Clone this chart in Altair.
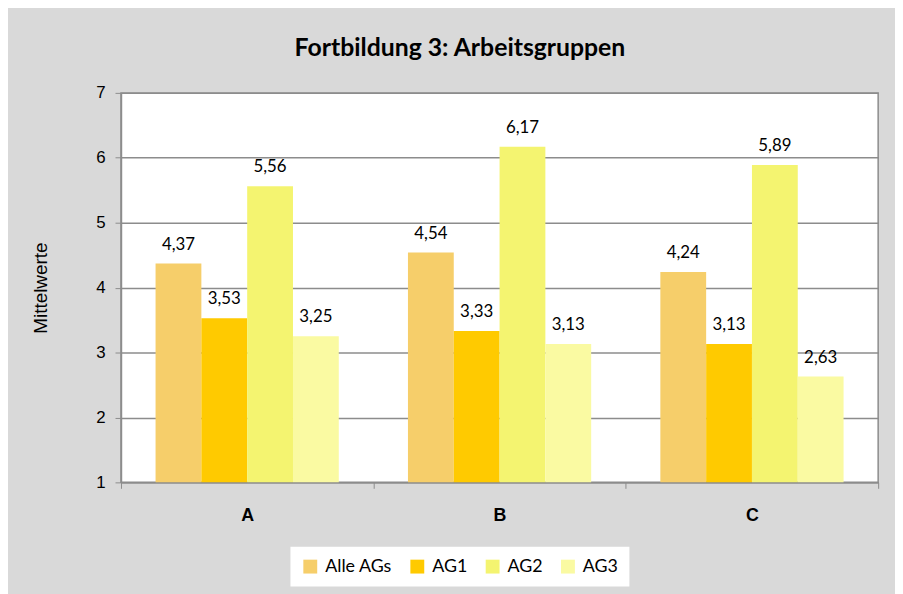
import altair as alt
import pandas as pd

categories = ["A", "B", "C"]
series = ["Alle AGs", "AG1", "AG2", "AG3"]
values = {
    "Alle AGs": [4.37, 4.54, 4.24],
    "AG1": [3.53, 3.33, 3.13],
    "AG2": [5.56, 6.17, 5.89],
    "AG3": [3.25, 3.13, 2.63],
}
colors = ["#F6CE6A", "#FFCA00", "#F4F470", "#FAFAA2"]

rows = []
for s in series:
    for c, v in zip(categories, values[s]):
        rows.append({"Kategorie": c, "Serie": s, "Wert": v,
                     "Label": f"{v:.2f}".replace(".", ",")})
df = pd.DataFrame(rows)

GRID = "#8c8c8c"

x = alt.X("Kategorie:N", sort=categories,
          scale=alt.Scale(paddingInner=0, paddingOuter=0),
          axis=alt.Axis(title=None, labelAngle=0, labelFont="Liberation Sans",
                        labelFontWeight="bold", labelFontSize=18, labelColor="black",
                        labelPadding=18, tickBand="extent", tickSize=6,
                        tickColor=GRID, domainColor=GRID, domainWidth=1.5))
y = alt.Y("Wert:Q", scale=alt.Scale(domain=[1, 7], nice=False),
          axis=alt.Axis(title="Mittelwerte", values=[1, 2, 3, 4, 5, 6, 7],
                        labelFont="Liberation Sans", labelFontSize=17,
                        labelColor="black", labelPadding=10, tickSize=6,
                        tickColor=GRID, domainColor=GRID, domainWidth=1.5,
                        gridColor=GRID, gridWidth=1.5, gridOpacity=1,
                        titleFont="Liberation Sans", titleFontSize=19,
                        titleFontWeight="normal", titleColor="black",
                        titlePadding=46))
xo = alt.XOffset("Serie:N", sort=series,
                 scale=alt.Scale(paddingInner=0, paddingOuter=0.755))

bars = alt.Chart(df).mark_bar().encode(
    x=x, xOffset=xo, y=y, y2=alt.datum(1),
    color=alt.Color("Serie:N", sort=series,
                    scale=alt.Scale(domain=series, range=colors),
                    legend=alt.Legend(title=None, orient="none", legendX=171,
                                      legendY=458, direction="horizontal",
                                      fillColor="white", padding=11,
                                      symbolType="square", symbolSize=196,
                                      symbolStrokeWidth=0, labelFont="Lato",
                                      labelFontSize=18, labelColor="black",
                                      columnPadding=16, labelOffset=6)),
)
labels = alt.Chart(df).mark_text(baseline="bottom", dy=-10, font="Lato",
                                 fontSize=17, color="black").encode(
    x=x, xOffset=xo, y=y, text="Label:N")

chart = alt.layer(bars, labels).properties(
    width=764, height=393,
    padding={"left": 114, "top": 83, "right": 17, "bottom": 110},
    autosize=alt.AutoSizeParams(type="none"),
    background="#d9d9d9",
    title=alt.Title("Fortbildung 3: Arbeitsgruppen", font="Lato", fontSize=25,
                    fontWeight="bold", color="black", anchor="middle", dx=-40,
                    offset=23),
).configure_view(fill="white", stroke=GRID, strokeWidth=1.5)

chart.save("out.html", embed_options={"renderer": "svg", "actions": False})
